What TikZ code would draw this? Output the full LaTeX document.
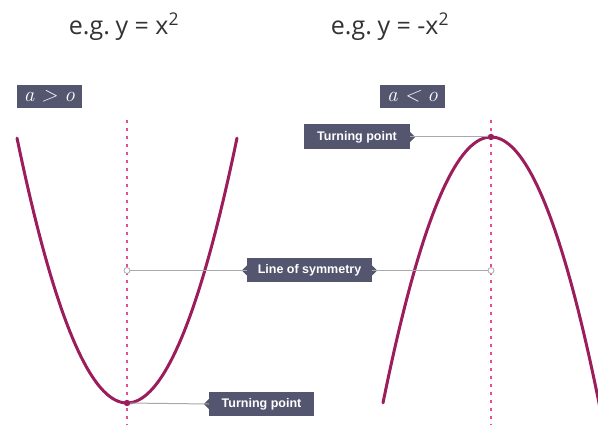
\documentclass[tikz,border=0pt]{standalone}
\usepackage{fontspec}
\newfontfamily\osans{Open Sans}
\newfontfamily\lab{Liberation Sans}
\definecolor{slate}{HTML}{54556F}
\definecolor{curve}{HTML}{9C1D5C}
\definecolor{pinkdash}{HTML}{EA4C92}
\definecolor{conn}{HTML}{A8A8B0}
\begin{document}
\begin{tikzpicture}[x=1pt,y=-1pt,
  title/.style={font=\osans\fontsize{25}{30}\selectfont, text=black!80, inner sep=0pt, anchor=base},
  signbox/.style={fill=slate, text=white, inner sep=0pt, minimum width=65pt, minimum height=23pt, font=\fontsize{21}{22}\selectfont\itshape},
  lbox/.style={fill=slate, text=white, inner sep=0pt, minimum height=24pt, font=\lab\bfseries\fontsize{12.5}{14}\selectfont},
  parab/.style={draw=curve, line width=3pt, line cap=round},
  symline/.style={draw=pinkdash, line width=2.5pt, dash pattern=on 3pt off 5pt},
  conline/.style={draw=conn, line width=1pt},
  endcirc/.style={circle, draw=conn, fill=white, line width=0.8pt, inner sep=0pt, minimum size=6pt}
]
\useasboundingbox (0,0) rectangle (598,425);
\clip (0,0) rectangle (598,425);

% titles
\node[title] (t1) at (124,35) {e.g.\hspace{-3pt} y = x\textsuperscript{2}};
\node[title] (t2) at (390,35) {e.g.\hspace{-3pt} y = -x\textsuperscript{2}};

% sign boxes
\node[signbox] (s1) at (49.5,96.5) {a\hspace{7pt}>\hspace{7pt}o};
\node[signbox] (s2) at (412.5,96.5) {a\hspace{7pt}<\hspace{7pt}o};

% axes of symmetry
\coordinate (v1) at (127,403);
\coordinate (v2) at (491,137);
\draw[symline] (127,120) -- (127,425);
\draw[symline] (491,120) -- (491,425);

% parabolas
\draw[parab] plot[domain=17:237, samples=80] (\x,{403-0.0219*(\x-127)*(\x-127)});
\draw[parab] plot[domain=383:600, samples=80] (\x,{137+0.0228*(\x-491)*(\x-491)});

% line of symmetry
\node[lbox, minimum width=125pt] (los) at (309.5,270.5) {Line of symmetry};
\fill[slate] (los.west) ++(0,-5) -- ++(-5,5) -- ++(5,5) -- cycle;
\fill[slate] (los.east) ++(0,-5) -- ++(5,5) -- ++(-5,5) -- cycle;
\node[endcirc] (c1) at (127,270.5) {};
\node[endcirc] (c2) at (491,270.5) {};
\draw[conline] (c1) -- (los.west);
\draw[conline] (los.east) -- (c2);

% top turning point
\node[lbox, minimum width=106pt, minimum height=25pt] (tp2) at (357,137) {Turning point};
\fill[slate] (tp2.east) ++(0,-5) -- ++(5,5) -- ++(-5,5) -- cycle;
\draw[conline] (tp2.east) -- (v2);

% bottom turning point
\node[lbox, minimum width=105pt] (tp1) at (261.5,404) {Turning point};
\fill[slate] (tp1.west) ++(0,-5) -- ++(-5,5) -- ++(5,5) -- cycle;
\draw[conline] (v1) -- (tp1.west);

% vertex dots
\fill[curve] (v1) circle (3.2pt);
\fill[curve] (v2) circle (3.2pt);
\end{tikzpicture}
\end{document}
